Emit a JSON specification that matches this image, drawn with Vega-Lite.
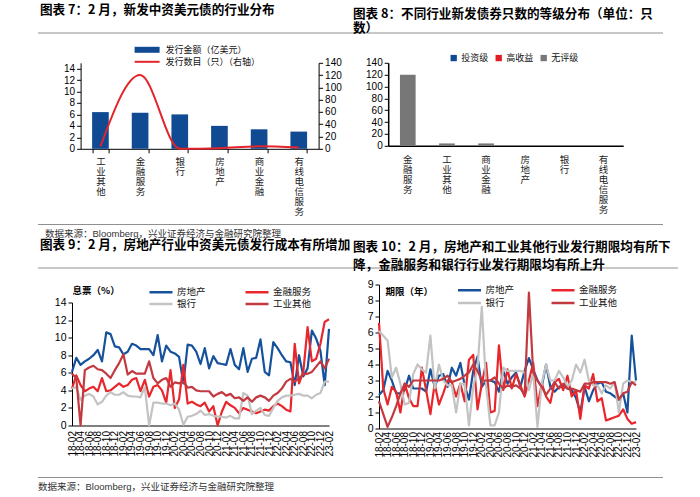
{
  "$schema": "https://vega.github.io/schema/vega-lite/v6.json",
  "background": "white",
  "padding": {"left": 38, "top": 3.5, "right": 5, "bottom": 0},
  "config": {
    "font": "Liberation Sans, Noto Sans CJK SC",
    "view": {"stroke": null},
    "axis": {"domainColor": "#000", "tickColor": "#000", "labelColor": "#000", "grid": false, "labelFontSize": 10, "tickSize": 4, "labelFont": "Liberation Sans", "titleFontWeight": "normal"},
    "legend": {"padding": 0, "labelFontSize": 9, "labelColor": "#111", "labelFont": "Noto Sans CJK SC"},
    "title": {"font": "Noto Sans CJK SC", "fontSize": 12.6, "fontWeight": "bold", "anchor": "start", "color": "#000"}
  },
  "resolve": {"scale": {"color": "independent", "fill": "independent", "stroke": "independent"}, "legend": {"color": "independent", "fill": "independent", "stroke": "independent"}},
  "datasets": {
    "p7": [
      {"cat": "工业其他", "amt": 6.4, "cnt": 4},
      {"cat": "金融服务", "amt": 6.3, "cnt": 120},
      {"cat": "银行", "amt": 6.0, "cnt": 0},
      {"cat": "房地产", "amt": 4.0, "cnt": 1},
      {"cat": "商业金融", "amt": 3.4, "cnt": 4},
      {"cat": "有线电信服务", "amt": 3.0, "cnt": 2}
    ],
    "p8": [
      {"cat": "金融服务", "g": "投资级", "n": 0}, {"cat": "金融服务", "g": "高收益", "n": 0}, {"cat": "金融服务", "g": "无评级", "n": 120},
      {"cat": "工业其他", "g": "投资级", "n": 0}, {"cat": "工业其他", "g": "高收益", "n": 0}, {"cat": "工业其他", "g": "无评级", "n": 4},
      {"cat": "商业金融", "g": "投资级", "n": 0}, {"cat": "商业金融", "g": "高收益", "n": 0}, {"cat": "商业金融", "g": "无评级", "n": 4},
      {"cat": "房地产", "g": "投资级", "n": 0}, {"cat": "房地产", "g": "高收益", "n": 0}, {"cat": "房地产", "g": "无评级", "n": 0},
      {"cat": "银行", "g": "投资级", "n": 0}, {"cat": "银行", "g": "高收益", "n": 0}, {"cat": "银行", "g": "无评级", "n": 0},
      {"cat": "有线电信服务", "g": "投资级", "n": 0}, {"cat": "有线电信服务", "g": "高收益", "n": 0}, {"cat": "有线电信服务", "g": "无评级", "n": 0}
    ],
    "coupon": [
      {"d": "18-02", "房地产": 6.1, "金融服务": 4.2, "银行": 4.2, "工业其他": 5.9},
      {"d": "18-03", "房地产": 7.7, "金融服务": 5.7, "银行": 4.4, "工业其他": 5.4},
      {"d": "18-04", "房地产": 6.9, "金融服务": 4.6, "银行": 2.9, "工业其他": 0.0},
      {"d": "18-05", "房地产": 7.3, "金融服务": 3.9, "银行": 3.4, "工业其他": 6.3},
      {"d": "18-06", "房地产": 7.6, "金融服务": 4.2, "银行": 3.6, "工业其他": 6.6},
      {"d": "18-07", "房地产": 8.0, "金融服务": 4.4, "银行": 3.3, "工业其他": 6.8},
      {"d": "18-08", "房地产": 8.6, "金融服务": 3.9, "银行": 2.4, "工业其他": 6.4},
      {"d": "18-09", "房地产": 7.3, "金融服务": 5.4, "银行": 2.7, "工业其他": 6.3},
      {"d": "18-10", "房地产": 10.6, "金融服务": 3.9, "银行": 3.4, "工业其他": 5.9},
      {"d": "18-11", "房地产": 10.4, "金融服务": 4.0, "银行": 3.8, "工业其他": 5.4},
      {"d": "18-12", "房地产": 9.0, "金融服务": 4.4, "银行": 3.5, "工业其他": 6.3},
      {"d": "19-01", "房地产": 8.9, "金融服务": 4.8, "银行": 3.5, "工业其他": 7.1},
      {"d": "19-02", "房地产": 8.1, "金融服务": 4.4, "银行": 3.8, "工业其他": 8.1},
      {"d": "19-03", "房地产": 8.4, "金融服务": 4.6, "银行": 3.4, "工业其他": 5.8},
      {"d": "19-04", "房地产": 9.3, "金融服务": 5.2, "银行": 3.3, "工业其他": 6.2},
      {"d": "19-05", "房地产": 9.1, "金融服务": 5.4, "银行": 3.3, "工业其他": 5.9},
      {"d": "19-06", "房地产": 8.7, "金融服务": 3.9, "银行": 3.2, "工业其他": 5.9},
      {"d": "19-07", "房地产": 8.7, "金融服务": 5.2, "银行": 4.4, "工业其他": 5.9},
      {"d": "19-08", "房地产": 8.7, "金融服务": 3.3, "银行": 0.0, "工业其他": 7.3},
      {"d": "19-09", "房地产": 8.0, "金融服务": 4.4, "银行": 2.6, "工业其他": 5.4},
      {"d": "19-10", "房地产": 10.3, "金融服务": 4.6, "银行": 2.6, "工业其他": 4.8},
      {"d": "19-11", "房地产": 7.3, "金融服务": 4.0, "银行": 2.5, "工业其他": 5.2},
      {"d": "19-12", "房地产": 9.1, "金融服务": 2.6, "银行": 2.5, "工业其他": 5.4},
      {"d": "20-01", "房地产": 8.4, "金融服务": 6.3, "银行": 2.3, "工业其他": 4.4},
      {"d": "20-02", "房地产": 8.2, "金融服务": 2.0, "银行": 2.5, "工业其他": 4.9},
      {"d": "20-03", "房地产": 7.8, "金融服务": 3.0, "银行": 1.8, "工业其他": 4.8},
      {"d": "20-04", "房地产": 4.8, "金融服务": 6.9, "银行": 0.1, "工业其他": 5.0},
      {"d": "20-05", "房地产": 9.2, "金融服务": 2.5, "银行": 1.0, "工业其他": 4.3},
      {"d": "20-06", "房地产": 9.1, "金融服务": 2.7, "银行": 1.1, "工业其他": 4.4},
      {"d": "20-07", "房地产": 8.4, "金融服务": 2.4, "银行": 1.3, "工业其他": 4.0},
      {"d": "20-08", "房地产": 7.0, "金融服务": 2.2, "银行": 1.7, "工业其他": 3.9},
      {"d": "20-09", "房地产": 8.8, "金融服务": 2.6, "银行": 1.2, "工业其他": 3.9},
      {"d": "20-10", "房地产": 6.5, "金融服务": 1.6, "银行": 1.3, "工业其他": 3.9},
      {"d": "20-11", "房地产": 7.9, "金融服务": 2.2, "银行": 1.1, "工业其他": 3.3},
      {"d": "20-12", "房地产": 7.1, "金融服务": 0.0, "银行": 1.0, "工业其他": 3.6},
      {"d": "21-01", "房地产": 7.0, "金融服务": 1.6, "银行": 1.0, "工业其他": 3.8},
      {"d": "21-02", "房地产": 6.9, "金融服务": 2.7, "银行": 0.9, "工业其他": 3.4},
      {"d": "21-03", "房地产": 8.7, "金融服务": 2.3, "银行": 1.1, "工业其他": 3.6},
      {"d": "21-04", "房地产": 6.9, "金融服务": 2.0, "银行": 0.8, "工业其他": 3.1},
      {"d": "21-05", "房地产": 6.4, "金融服务": 1.4, "银行": 0.8, "工业其他": 3.2},
      {"d": "21-06", "房地产": 8.8, "金融服务": 2.0, "银行": 3.7, "工业其他": 2.8},
      {"d": "21-07", "房地产": 6.1, "金融服务": 1.8, "银行": 3.4, "工业其他": 3.2},
      {"d": "21-08", "房地产": 7.6, "金融服务": 1.6, "银行": 1.3, "工业其他": 2.7},
      {"d": "21-09", "房地产": 7.7, "金融服务": 1.4, "银行": 1.7, "工业其他": 3.2},
      {"d": "21-10", "房地产": 9.8, "金融服务": 1.6, "银行": 2.0, "工业其他": 3.4},
      {"d": "21-11", "房地产": 6.1, "金融服务": 1.8, "银行": 1.2, "工业其他": 3.2},
      {"d": "21-12", "房地产": 5.7, "金融服务": 1.7, "银行": 1.1, "工业其他": 2.8},
      {"d": "22-01", "房地产": 9.5, "金融服务": 2.2, "银行": 2.0, "工业其他": 3.4},
      {"d": "22-02", "房地产": 8.8, "金融服务": 2.5, "银行": 2.8, "工业其他": 3.7},
      {"d": "22-03", "房地产": 8.0, "金融服务": 2.2, "银行": 3.2, "工业其他": 4.2},
      {"d": "22-04", "房地产": 7.3, "金融服务": 1.8, "银行": 3.4, "工业其他": 5.0},
      {"d": "22-05", "房地产": 7.2, "金融服务": 1.6, "银行": 3.4, "工业其他": 5.3},
      {"d": "22-06", "房地产": 4.6, "金融服务": 9.3, "银行": 3.5, "工业其他": 5.0},
      {"d": "22-07", "房地产": 8.0, "金融服务": 4.8, "银行": 3.6, "工业其他": 5.4},
      {"d": "22-08", "房地产": 5.6, "金融服务": 6.1, "银行": 3.4, "工业其他": 5.8},
      {"d": "22-09", "房地产": 6.5, "金融服务": 11.2, "银行": 3.4, "工业其他": 5.9},
      {"d": "22-10", "房地产": 10.8, "金融服务": 7.3, "银行": 3.1, "工业其他": 6.1},
      {"d": "22-11", "房地产": 9.9, "金融服务": 7.6, "银行": 3.5, "工业其他": 6.7},
      {"d": "22-12", "房地产": 8.5, "金融服务": 9.3, "银行": 3.7, "工业其他": 7.3},
      {"d": "23-01", "房地产": 4.6, "金融服务": 11.8, "银行": 5.0, "工业其他": 6.5},
      {"d": "23-02", "房地产": 11.0, "金融服务": 12.1, "银行": 5.0, "工业其他": 7.6}
    ],
    "tenor": [
      {"d": "18-02", "房地产": 2.1, "金融服务": 6.6, "银行": 6.1, "工业其他": 1.7},
      {"d": "18-03", "房地产": 2.4, "金融服务": 2.5, "银行": 5.8, "工业其他": 0.9},
      {"d": "18-04", "房地产": 3.6, "金融服务": 1.5, "银行": 5.5, "工业其他": 0.1},
      {"d": "18-05", "房地产": 3.0, "金融服务": 2.6, "银行": 3.2, "工业其他": 0.7},
      {"d": "18-06", "房地产": 2.2, "金融服务": 2.3, "银行": 3.8, "工业其他": 1.4},
      {"d": "18-07", "房地产": 2.2, "金融服务": 1.0, "银行": 2.8, "工业其他": 2.2},
      {"d": "18-08", "房地产": 2.4, "金融服务": 2.8, "银行": 1.5, "工业其他": 2.8},
      {"d": "18-09", "房地产": 3.3, "金融服务": 1.9, "银行": 1.6, "工业其他": 2.6},
      {"d": "18-10", "房地产": 2.5, "金融服务": 1.4, "银行": 3.4, "工业其他": 3.0},
      {"d": "18-11", "房地产": 2.5, "金融服务": 1.4, "银行": 4.0, "工业其他": 3.0},
      {"d": "18-12", "房地产": 2.5, "金融服务": 3.8, "银行": 3.7, "工业其他": 3.0},
      {"d": "19-01", "房地产": 2.3, "金融服务": 2.4, "银行": 3.5, "工业其他": 3.0},
      {"d": "19-02", "房地产": 3.7, "金融服务": 0.9, "银行": 5.8, "工业其他": 3.0},
      {"d": "19-03", "房地产": 2.6, "金融服务": 2.8, "银行": 2.5, "工业其他": 3.0},
      {"d": "19-04", "房地产": 3.3, "金融服务": 1.5, "银行": 4.0, "工业其他": 3.0},
      {"d": "19-05", "房地产": 3.4, "金融服务": 2.2, "银行": 3.0, "工业其他": 3.1},
      {"d": "19-06", "房地产": 2.6, "金融服务": 3.0, "银行": 2.7, "工业其他": 3.3},
      {"d": "19-07", "房地产": 3.8, "金融服务": 2.9, "银行": 2.7, "工业其他": 2.9},
      {"d": "19-08", "房地产": 3.3, "金融服务": 2.0, "银行": 1.0, "工业其他": 3.0},
      {"d": "19-09", "房地产": 4.1, "金融服务": 2.8, "银行": 2.8, "工业其他": 3.1},
      {"d": "19-10", "房地产": 2.7, "金融服务": 1.7, "银行": 2.8, "工业其他": 3.3},
      {"d": "19-11", "房地产": 1.8, "金融服务": 4.3, "银行": 0.2, "工业其他": 3.5},
      {"d": "19-12", "房地产": 3.6, "金融服务": 4.6, "银行": 2.6, "工业其他": 4.0},
      {"d": "20-01", "房地产": 4.5, "金融服务": 1.2, "银行": 3.8, "工业其他": 3.6},
      {"d": "20-02", "房地产": 2.6, "金融服务": 2.8, "银行": 7.6, "工业其他": 3.0},
      {"d": "20-03", "房地产": 3.0, "金融服务": 4.1, "银行": 2.7, "工业其他": 3.0},
      {"d": "20-04", "房地产": 3.0, "金融服务": 1.0, "银行": 0.2, "工业其他": 3.0},
      {"d": "20-05", "房地产": 2.9, "金融服务": 1.1, "银行": 0.2, "工业其他": 3.2},
      {"d": "20-06", "房地产": 2.3, "金融服务": 5.2, "银行": 1.0, "工业其他": 2.8},
      {"d": "20-07", "房地产": 3.6, "金融服务": 2.4, "银行": 3.8, "工业其他": 2.5},
      {"d": "20-08", "房地产": 2.8, "金融服务": 3.7, "银行": 3.6, "工业其他": 2.7},
      {"d": "20-09", "房地产": 3.2, "金融服务": 2.5, "银行": 3.6, "工业其他": 2.6},
      {"d": "20-10", "房地产": 3.5, "金融服务": 3.4, "银行": 3.6, "工业其他": 2.7},
      {"d": "20-11", "房地产": 2.6, "金融服务": 2.7, "银行": 3.6, "工业其他": 2.5},
      {"d": "20-12", "房地产": 3.6, "金融服务": 2.0, "银行": 3.5, "工业其他": 2.1},
      {"d": "21-01", "房地产": 4.4, "金融服务": 3.0, "银行": 2.4, "工业其他": 8.5},
      {"d": "21-02", "房地产": 3.7, "金融服务": 4.1, "银行": 3.5, "工业其他": 3.5},
      {"d": "21-03", "房地产": 3.0, "金融服务": 1.4, "银行": 0.1, "工业其他": 3.0},
      {"d": "21-04", "房地产": 2.6, "金融服务": 2.8, "银行": 2.8, "工业其他": 2.6},
      {"d": "21-05", "房地产": 4.0, "金融服务": 2.0, "银行": 4.0, "工业其他": 2.1},
      {"d": "21-06", "房地产": 2.6, "金融服务": 1.6, "银行": 3.0, "工业其他": 2.5},
      {"d": "21-07", "房地产": 2.3, "金融服务": 2.9, "银行": 3.0, "工业其他": 2.9},
      {"d": "21-08", "房地产": 2.6, "金融服务": 3.1, "银行": 3.6, "工业其他": 2.5},
      {"d": "21-09", "房地产": 2.7, "金融服务": 2.4, "银行": 3.2, "工业其他": 2.8},
      {"d": "21-10", "房地产": 2.5, "金融服务": 3.3, "银行": 2.6, "工业其他": 2.5},
      {"d": "21-11", "房地产": 2.4, "金融服务": 2.0, "银行": 3.0, "工业其他": 2.5},
      {"d": "21-12", "房地产": 1.9, "金融服务": 2.4, "银行": 4.0, "工业其他": 2.4},
      {"d": "22-01", "房地产": 1.0, "金融服务": 0.6, "银行": 3.5, "工业其他": 2.3},
      {"d": "22-02", "房地产": 2.6, "金融服务": 2.7, "银行": 4.3, "工业其他": 2.8},
      {"d": "22-03", "房地产": 1.7, "金融服务": 2.5, "银行": 3.0, "工业其他": 2.8},
      {"d": "22-04", "房地产": 2.4, "金融服务": 3.4, "银行": 2.7, "工业其他": 2.9},
      {"d": "22-05", "房地产": 2.8, "金融服务": 1.7, "银行": 2.7, "工业其他": 2.9},
      {"d": "22-06", "房地产": 2.9, "金融服务": 1.9, "银行": 2.2, "工业其他": 2.9},
      {"d": "22-07", "房地产": 2.3, "金融服务": 0.5, "银行": 2.7, "工业其他": 2.9},
      {"d": "22-08", "房地产": 2.2, "金融服务": 0.6, "银行": 2.5, "工业其他": 2.8},
      {"d": "22-09", "房地产": 2.0, "金融服务": 0.7, "银行": 2.9, "工业其他": 2.9},
      {"d": "22-10", "房地产": 1.8, "金融服务": 0.8, "银行": 1.0, "工业其他": 1.8},
      {"d": "22-11", "房地产": 2.2, "金融服务": 1.2, "银行": 2.8, "工业其他": 2.2},
      {"d": "22-12", "房地产": 1.0, "金融服务": 0.6, "银行": 3.0, "工业其他": 2.3},
      {"d": "23-01", "房地产": 5.8, "金融服务": 0.3, "银行": 2.9, "工业其他": 2.9},
      {"d": "23-02", "房地产": 3.0, "金融服务": 0.4, "银行": 2.9, "工业其他": 2.7}
    ]
  },
  "spacing": 7.5,
  "vconcat": [
    {
      "spacing": 8.3,
      "resolve": {"scale": {"color": "independent", "fill": "independent", "stroke": "independent"}, "legend": {"color": "independent", "fill": "independent", "stroke": "independent"}},
      "vconcat": [
        {
          "spacing": 0,
          "hconcat": [
            {"width": 314, "height": 1, "data": {"values": []}, "mark": "point", "encoding": {}, "view": {"fill": "#8f8f8f", "stroke": null},
             "title": {"text": "图表 7：2 月，新发中资美元债的行业分布", "offset": 15.7, "dx": 2}},
            {"width": 311, "height": 1, "data": {"values": []}, "mark": "point", "encoding": {}, "view": {"fill": "#8f8f8f", "stroke": null},
             "title": {"text": ["图表 8：不同行业新发债券只数的等级分布（单位：只", "数）"], "offset": -2.5, "dx": 1, "lineHeight": 14.7}}
          ]
        },
        {
          "spacing": 23.6,
          "resolve": {"scale": {"color": "independent", "fill": "independent", "stroke": "independent"}, "legend": {"color": "independent", "fill": "independent", "stroke": "independent"}},
          "hconcat": [
            {"width": 1, "height": 1, "data": {"values": []}, "mark": "point", "encoding": {}},
            {
              "width": 238, "height": 86,
              "data": {"name": "p7"},
              "encoding": {
                "x": {"field": "cat", "type": "nominal", "sort": null,
                      "scale": {"paddingInner": 0.58, "paddingOuter": 0.29},
                      "axis": {"title": null, "labelAngle": 0, "labelExpr": "split(datum.label, '')", "labelFont": "Noto Sans CJK SC", "labelFontSize": 9.5, "labelLineHeight": 10, "labelBaseline": "top", "labelAlign": "center", "labelPadding": 3.5, "tickBand": "extent", "tickSize": 4, "labelColor": "#222"}}
              },
              "layer": [
                {
                  "mark": {"type": "bar"},
                  "encoding": {
                    "y": {"field": "amt", "type": "quantitative", "scale": {"domain": [0, 15], "nice": false},
                          "axis": {"values": [0, 2, 4, 6, 8, 10, 12, 14], "title": null}},
                    "fill": {"datum": "发行金额（亿美元）", "type": "nominal", "scale": {"range": ["#104a92"]},
                             "legend": {"orient": "none", "legendX": 60.5, "legendY": -19, "title": null, "symbolType": "M-2.5,-0.6H2.5V0.6H-2.5Z", "symbolSize": 100, "labelOffset": 12.5}}
                  }
                },
                {
                  "mark": {"type": "line", "interpolate": "monotone", "strokeWidth": 2},
                  "encoding": {
                    "y": {"field": "cnt", "type": "quantitative", "scale": {"domain": [0, 140], "nice": false},
                          "axis": {"orient": "right", "values": [0, 20, 40, 60, 80, 100, 120, 140], "title": null}},
                    "stroke": {"datum": "发行数目（只）（右轴）", "type": "nominal", "scale": {"range": ["#e5232a"]},
                               "legend": {"orient": "none", "legendX": 60.5, "legendY": -7, "title": null, "symbolType": "M-2.5,0H2.5", "symbolSize": 100, "symbolStrokeWidth": 2, "labelOffset": 12.5}}
                  }
                }
              ],
              "resolve": {"scale": {"y": "independent"}}
            },
            {
              "width": 235, "height": 83,
              "data": {"name": "p8"},
              "mark": {"type": "bar"},
              "encoding": {
                "x": {"field": "cat", "type": "nominal", "sort": null,
                      "scale": {"paddingInner": 0.6, "paddingOuter": 0.3},
                      "axis": {"title": null, "labelAngle": 0, "labelExpr": "split(datum.label, '')", "labelFont": "Noto Sans CJK SC", "labelFontSize": 9.5, "labelLineHeight": 10, "labelBaseline": "top", "labelAlign": "center", "labelPadding": 8.7, "ticks": false, "tickSize": 0, "domainWidth": 1.5, "labelColor": "#222"}},
                "y": {"field": "n", "type": "quantitative", "stack": "zero", "scale": {"domain": [0, 140], "nice": false},
                      "axis": {"values": [0, 20, 40, 60, 80, 100, 120, 140], "title": null, "domainWidth": 1.5}},
                "color": {"field": "g", "type": "nominal",
                          "scale": {"domain": ["投资级", "高收益", "无评级"], "range": ["#0f4a92", "#e31b23", "#777777"]},
                          "legend": {"orient": "none", "legendX": 61, "legendY": -9.5, "direction": "horizontal", "title": null, "symbolType": "square", "symbolSize": 40, "labelOffset": 3, "columnPadding": 5}}
              }
            }
          ]
        }
      ]
    },
    {
      "spacing": 0.5,
      "vconcat": [
        {"width": 625, "height": 1, "data": {"values": []}, "mark": "point", "encoding": {}, "view": {"fill": "#8f8f8f", "stroke": null},
         "title": {"text": "数据来源：Bloomberg，兴业证券经济与金融研究院整理", "orient": "bottom", "anchor": "start", "offset": 3.5, "dx": 7, "fontSize": 9.5, "fontWeight": "normal", "color": "#333", "font": "Liberation Sans, Noto Sans CJK SC"}},
        {
          "spacing": 0,
          "hconcat": [
            {"width": 314, "height": 1, "data": {"values": []}, "mark": "point", "encoding": {}, "view": {"fill": "#8f8f8f", "stroke": null},
             "title": {"text": "图表 9：2 月，房地产行业中资美元债发行成本有所增加", "offset": 16.3, "dx": 2}},
            {"width": 326, "height": 1, "data": {"values": []}, "mark": "point", "encoding": {}, "view": {"fill": "#8f8f8f", "stroke": null},
             "title": {"text": ["图表 10：2 月，房地产和工业其他行业发行期限均有所下", " 降，金融服务和银行行业发行期限均有所上升"], "offset": -4.4, "dx": 1, "lineHeight": 18}}
          ]
        }
      ]
    },
    {
      "spacing": 19.4,
      "resolve": {"scale": {"color": "independent", "fill": "independent", "stroke": "independent"}, "legend": {"color": "independent", "fill": "independent", "stroke": "independent"}},
      "vconcat": [
        {
          "spacing": 15,
          "resolve": {"scale": {"color": "independent", "fill": "independent", "stroke": "independent"}, "legend": {"color": "independent", "fill": "independent", "stroke": "independent"}},
          "hconcat": [
            {"width": 1, "height": 1, "data": {"values": []}, "mark": "point", "encoding": {}},
            {
              "spacing": 0,
              "resolve": {"scale": {"color": "independent"}, "legend": {"color": "independent"}},
              "vconcat": [
                {"width": 1, "height": 1, "data": {"values": []}, "mark": "point", "encoding": {}},
                {
                  "width": 257, "height": 123,
                  "data": {"name": "coupon"},
                  "transform": [{"fold": ["房地产", "金融服务", "银行", "工业其他"], "as": ["s", "v"]}],
                  "mark": {"type": "line", "strokeWidth": 2.2, "strokeJoin": "round"},
                  "encoding": {
                    "x": {"field": "d", "type": "ordinal", "sort": null, "scale": {"type": "point", "padding": 0},
                          "axis": {"values": ["18-02","18-04","18-06","18-08","18-10","18-12","19-02","19-04","19-06","19-08","19-10","19-12","20-02","20-04","20-06","20-08","20-10","20-12","21-02","21-04","21-06","21-08","21-10","21-12","22-02","22-04","22-06","22-08","22-10","22-12","23-02"],
                                   "labelAngle": -90, "labelFontSize": 10, "labelOverlap": false, "ticks": false, "tickSize": 0, "labelPadding": 5,
                                   "title": " ", "titleX": 279.7, "titleY": -60, "titleAlign": "left", "titleBaseline": "top"}},
                    "y": {"field": "v", "type": "quantitative", "scale": {"domain": [0, 14], "nice": false},
                          "axis": {"values": [0, 2, 4, 6, 8, 10, 12, 14], "labelFontSize": 10.5, "title": "息票（%）", "titleAngle": 0, "titleX": 0, "titleY": -12, "titleAlign": "left", "titleBaseline": "middle", "titleFont": "Noto Sans CJK SC", "titleFontSize": 9.5, "titleFontWeight": "bold", "titleColor": "#000"}},
                    "color": {"field": "s", "type": "nominal",
                              "scale": {"domain": ["房地产", "银行", "金融服务", "工业其他"], "range": ["#16529c", "#c3c3c3", "#e8262b", "#c23a40"]},
                              "legend": {"orient": "none", "legendX": 82.5, "legendY": -17, "columns": 2, "gridAlign": "each", "title": null, "symbolType": "M-2.3,0H2.3", "symbolSize": 100, "symbolStrokeWidth": 2.5, "labelOffset": 9.5, "columnPadding": 34, "rowPadding": 0, "labelFontSize": 9.5}}
                  }
                }
              ]
            },
            {
              "width": 257, "height": 144,
              "data": {"name": "tenor"},
              "transform": [{"fold": ["房地产", "金融服务", "银行", "工业其他"], "as": ["s", "v"]}],
              "mark": {"type": "line", "strokeWidth": 2.2, "strokeJoin": "round"},
              "encoding": {
                "x": {"field": "d", "type": "ordinal", "sort": null, "scale": {"type": "point", "padding": 0},
                      "axis": {"values": ["18-02","18-04","18-06","18-08","18-10","18-12","19-02","19-04","19-06","19-08","19-10","19-12","20-02","20-04","20-06","20-08","20-10","20-12","21-02","21-04","21-06","21-08","21-10","21-12","22-02","22-04","22-06","22-08","22-10","22-12","23-02"],
                               "labelAngle": -90, "labelFontSize": 10, "labelOverlap": false, "ticks": false, "tickSize": 0, "labelPadding": 3, "title": null}},
                "y": {"field": "v", "type": "quantitative", "scale": {"domain": [0, 9], "nice": false},
                      "axis": {"values": [0, 1, 2, 3, 4, 5, 6, 7, 8, 9], "labelFontSize": 10.5, "title": "期限（年）", "titleAngle": 0, "titleX": 6, "titleY": 7, "titleAlign": "left", "titleBaseline": "middle", "titleFont": "Noto Sans CJK SC", "titleFontSize": 9.5, "titleFontWeight": "bold", "titleColor": "#000"}},
                "color": {"field": "s", "type": "nominal",
                          "scale": {"domain": ["房地产", "银行", "金融服务", "工业其他"], "range": ["#16529c", "#c3c3c3", "#e8262b", "#c23a40"]},
                          "legend": {"orient": "none", "legendX": 84, "legendY": -1, "columns": 2, "gridAlign": "each", "title": null, "symbolType": "M-2.3,0H2.3", "symbolSize": 100, "symbolStrokeWidth": 2.5, "labelOffset": 9.5, "columnPadding": 31.5, "rowPadding": 1, "labelFontSize": 9.5}}
              }
            }
          ]
        },
        {"width": 625, "height": 1, "data": {"values": []}, "mark": "point", "encoding": {}, "view": {"fill": "#8f8f8f", "stroke": null},
         "title": {"text": "数据来源：Bloomberg，兴业证券经济与金融研究院整理", "orient": "bottom", "anchor": "start", "offset": 4, "dx": 0, "fontSize": 9.5, "fontWeight": "normal", "color": "#333", "font": "Liberation Sans, Noto Sans CJK SC"}}
      ]
    }
  ]
}
